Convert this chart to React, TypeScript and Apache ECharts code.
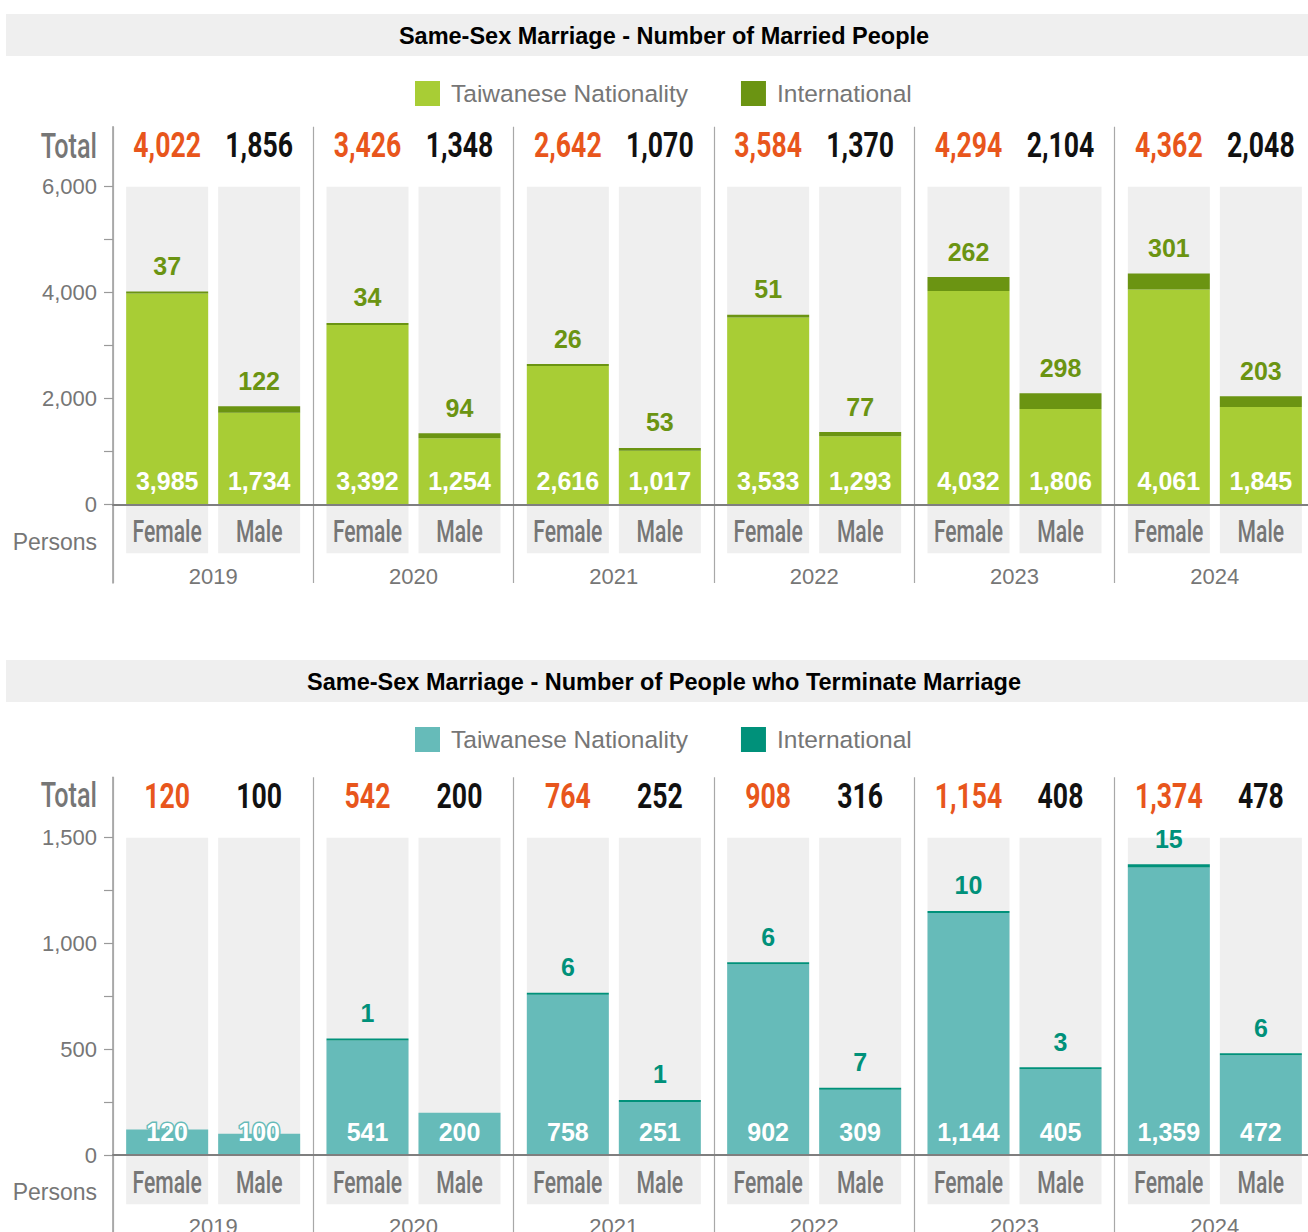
import React, { useEffect, useRef } from 'react';
import * as echarts from 'echarts';

// ---------- data ----------
const years = ['2019', '2020', '2021', '2022', '2023', '2024'];
const genderLabels = ['Female', 'Male'];
const legendNames = ['Taiwanese Nationality', 'International'];

const marriedFemaleTaiwanese = [3985, 3392, 2616, 3533, 4032, 4061];
const marriedFemaleInternational = [37, 34, 26, 51, 262, 301];
const marriedMaleTaiwanese = [1734, 1254, 1017, 1293, 1806, 1845];
const marriedMaleInternational = [122, 94, 53, 77, 298, 203];
const marriedFemaleTotal = [4022, 3426, 2642, 3584, 4294, 4362];
const marriedMaleTotal = [1856, 1348, 1070, 1370, 2104, 2048];
const marriedAxisTicks = [0, 1000, 2000, 3000, 4000, 5000, 6000];
const marriedAxisLabels = [0, 2000, 4000, 6000];

const termFemaleTaiwanese = [120, 541, 758, 902, 1144, 1359];
const termFemaleInternational = [0, 1, 6, 6, 10, 15];
const termMaleTaiwanese = [100, 200, 251, 309, 405, 472];
const termMaleInternational = [0, 0, 1, 7, 3, 6];
const termFemaleTotal = [120, 542, 764, 908, 1154, 1374];
const termMaleTotal = [100, 200, 252, 316, 408, 478];
const termAxisTicks = [0, 250, 500, 750, 1000, 1250, 1500];
const termAxisLabels = [0, 500, 1000, 1500];

// ---------- styling ----------
const SANS = "'Liberation Sans', Arial, Helvetica, sans-serif";
const COND = "Roboto, 'Liberation Sans', sans-serif";
const GRAY_TEXT = '#767676';
const BG_GRAY = '#efefef';
const ORANGE = '#e8561c';

const fmt = (v: number) => v.toLocaleString('en-US');

interface Cfg {
  title: string;
  twColor: string;
  intColor: string;
  fT: number[];
  fI: number[];
  mT: number[];
  mI: number[];
  fTot: number[];
  mTot: number[];
  topValue: number;
  ticks: number[];
  labels: number[];
  gridTop: number;
  topY: number;
  zeroY: number;
  gridBottom: number;
  bgBottomY: number;
  totalY: number;
  personsY: number;
}

function buildOption(c: Cfg): any {
  const k = (c.zeroY - c.topY) / c.topValue;
  const yMax = c.topValue + (c.topY - c.gridTop) / k;
  const yMin = -(c.gridBottom - c.zeroY) / k;
  const bgLow = -(c.bgBottomY - c.zeroY) / k;
  const barWidth = 82;
  const barGap = '12.2%';
  const slotOffset = 46;

  const bg = (stack: string, value: number) => ({
    type: 'bar',
    name: stack + value,
    xAxisIndex: 1,
    stack,
    silent: true,
    barWidth,
    barGap,
    itemStyle: { color: BG_GRAY },
    data: years.map(() => value),
  });
  const tw = (stack: string, data: number[]) => ({
    type: 'bar',
    name: legendNames[0],
    xAxisIndex: 0,
    stack,
    barWidth,
    barGap,
    itemStyle: { color: c.twColor },
    data,
    label: {
      show: true,
      position: 'insideBottom',
      distance: 11,
      formatter: (p: any) => fmt(p.value),
      color: '#fff',
      fontSize: 25,
      fontWeight: 'bold',
      fontFamily: SANS,
      textBorderColor: c.twColor,
      textBorderWidth: 3,
    },
  });
  const intl = (stack: string, data: number[]) => ({
    type: 'bar',
    name: legendNames[1],
    xAxisIndex: 0,
    stack,
    barWidth,
    barGap,
    barMinHeight: 2,
    itemStyle: { color: c.intColor },
    data: data.map((v) => (v === 0 ? null : v)),
    label: {
      show: true,
      position: 'top',
      distance: 13,
      formatter: (p: any) => (p.value == null ? '' : fmt(p.value)),
      color: c.intColor,
      fontSize: 25,
      fontWeight: 'bold',
      fontFamily: SANS,
    },
  });

  const condText = (x: number, y: number, text: string, fill: string, size: number, sx: number, weight: number) => ({
    type: 'text',
    x,
    y,
    scaleX: sx,
    style: { text, fill, font: `${weight} ${size}px ${COND}`, align: 'center', verticalAlign: 'middle' },
  });

  const totalsSeries = {
    type: 'custom',
    name: 'totals',
    xAxisIndex: 0,
    silent: true,
    z: 10,
    data: years.map((_, i) => [i, c.fTot[i], c.mTot[i]]),
    renderItem: (_p: any, api: any) => {
      const p = api.coord([api.value(0), c.topValue]);
      const y = p[1] - 42;
      return {
        type: 'group',
        children: [
          condText(p[0] - slotOffset, y, fmt(api.value(1)), ORANGE, 36, 0.74, 700),
          condText(p[0] + slotOffset, y, fmt(api.value(2)), '#111', 36, 0.74, 700),
        ],
      };
    },
  };
  const genderSeries = {
    type: 'custom',
    name: 'genders',
    xAxisIndex: 0,
    silent: true,
    z: 10,
    data: years.map((_, i) => [i, 0]),
    renderItem: (_p: any, api: any) => {
      const p = api.coord([api.value(0), api.value(1)]);
      const y = p[1] + 27;
      return {
        type: 'group',
        children: [
          condText(p[0] - slotOffset, y, genderLabels[0], GRAY_TEXT, 32, 0.66, 500),
          condText(p[0] + slotOffset, y, genderLabels[1], GRAY_TEXT, 32, 0.66, 500),
        ],
      };
    },
  };

  return {
    animation: false,
    backgroundColor: '#fff',
    textStyle: { fontFamily: SANS },
    legend: {
      data: legendNames,
      left: 410,
      top: 76,
      icon: 'rect',
      itemWidth: 25,
      itemHeight: 25,
      itemGap: 53,
      selectedMode: false,
      textStyle: { fontSize: 24.5, color: GRAY_TEXT, fontFamily: SANS, padding: [0, 0, 0, 6] },
    },
    grid: {
      left: 113,
      top: c.gridTop,
      right: -7,
      height: c.gridBottom - c.gridTop,
      containLabel: false,
      outerBoundsMode: 'none',
    },
    xAxis: [
      {
        type: 'category',
        data: years,
        position: 'top',
        z: 5,
        axisLine: { show: true, onZero: true, lineStyle: { color: '#7f7f7f', width: 2 } },
        axisTick: { show: false },
        axisLabel: { show: false },
        splitLine: { show: true, lineStyle: { color: '#a8a8a8', width: 1.2 } },
      },
      {
        type: 'category',
        data: years,
        position: 'bottom',
        axisLine: { show: false, onZero: false },
        axisTick: { show: false },
        axisLabel: { show: true, color: GRAY_TEXT, fontSize: 22, fontFamily: SANS, margin: -18 },
        splitLine: { show: false },
      },
    ],
    yAxis: {
      type: 'value',
      min: yMin,
      max: yMax,
      axisLine: { show: true, onZero: false, lineStyle: { color: '#9a9a9a', width: 1.5 } },
      axisTick: { show: true, length: 9, customValues: c.ticks, lineStyle: { color: '#9a9a9a', width: 1.2 } },
      axisLabel: {
        show: true,
        customValues: c.labels,
        formatter: (v: number) => fmt(v),
        color: GRAY_TEXT,
        fontSize: 22,
        fontFamily: SANS,
        margin: 16,
      },
      splitLine: { show: false },
    },
    graphic: [
      { type: 'rect', shape: { x: 6, y: 14, width: 1310, height: 42 }, style: { fill: BG_GRAY }, silent: true },
      {
        type: 'text',
        x: 664,
        y: 36,
        style: {
          text: c.title,
          fill: '#000',
          font: `bold 23.5px ${SANS}`,
          align: 'center',
          verticalAlign: 'middle',
        },
      },
      {
        type: 'text',
        x: 97,
        y: c.totalY,
        scaleX: 0.7,
        style: { text: 'Total', fill: GRAY_TEXT, font: `500 36px ${COND}`, align: 'right', verticalAlign: 'middle' },
      },
      {
        type: 'text',
        x: 97,
        y: c.personsY,
        style: { text: 'Persons', fill: GRAY_TEXT, font: `23px ${SANS}`, align: 'right', verticalAlign: 'middle' },
      },
    ],
    series: [
      bg('bgF', c.topValue),
      bg('bgF', bgLow),
      bg('bgM', c.topValue),
      bg('bgM', bgLow),
      tw('F', c.fT),
      intl('F', c.fI),
      tw('M', c.mT),
      intl('M', c.mI),
      totalsSeries,
      genderSeries,
    ],
  };
}

const marriedCfg: Cfg = {
  title: 'Same-Sex Marriage - Number of Married People',
  twColor: '#a8cd35',
  intColor: '#6b9412',
  fT: marriedFemaleTaiwanese,
  fI: marriedFemaleInternational,
  mT: marriedMaleTaiwanese,
  mI: marriedMaleInternational,
  fTot: marriedFemaleTotal,
  mTot: marriedMaleTotal,
  topValue: 6000,
  ticks: marriedAxisTicks,
  labels: marriedAxisLabels,
  gridTop: 126.7,
  topY: 186.7,
  zeroY: 504.7,
  gridBottom: 583,
  bgBottomY: 553.3,
  totalY: 146,
  personsY: 542,
};

const termCfg: Cfg = {
  title: 'Same-Sex Marriage - Number of People who Terminate Marriage',
  twColor: '#66bbb9',
  intColor: '#00917a',
  fT: termFemaleTaiwanese,
  fI: termFemaleInternational,
  mT: termMaleTaiwanese,
  mI: termMaleInternational,
  fTot: termFemaleTotal,
  mTot: termMaleTotal,
  topValue: 1500,
  ticks: termAxisTicks,
  labels: termAxisLabels,
  gridTop: 131.3,
  topY: 191.7,
  zeroY: 509,
  gridBottom: 587.3,
  bgBottomY: 558.3,
  totalY: 149,
  personsY: 546,
};

function Chart({ cfg, top, height }: { cfg: Cfg; top: number; height: number }) {
  const ref = useRef<HTMLDivElement>(null);
  useEffect(() => {
    if (!ref.current) return;
    const chart = echarts.init(ref.current, undefined, { renderer: 'svg' });
    chart.setOption(buildOption(cfg));
    return () => chart.dispose();
  }, [cfg]);
  return <div ref={ref} style={{ position: 'absolute', left: 0, top, width: 1308, height }} />;
}

export default function App() {
  useEffect(() => {
    document.body.style.margin = '0';
  }, []);
  return (
    <div style={{ position: 'relative', width: 1308, height: 1232, overflow: 'hidden', background: '#fff' }}>
      <Chart cfg={marriedCfg} top={0} height={646} />
      <Chart cfg={termCfg} top={646} height={586} />
    </div>
  );
}
